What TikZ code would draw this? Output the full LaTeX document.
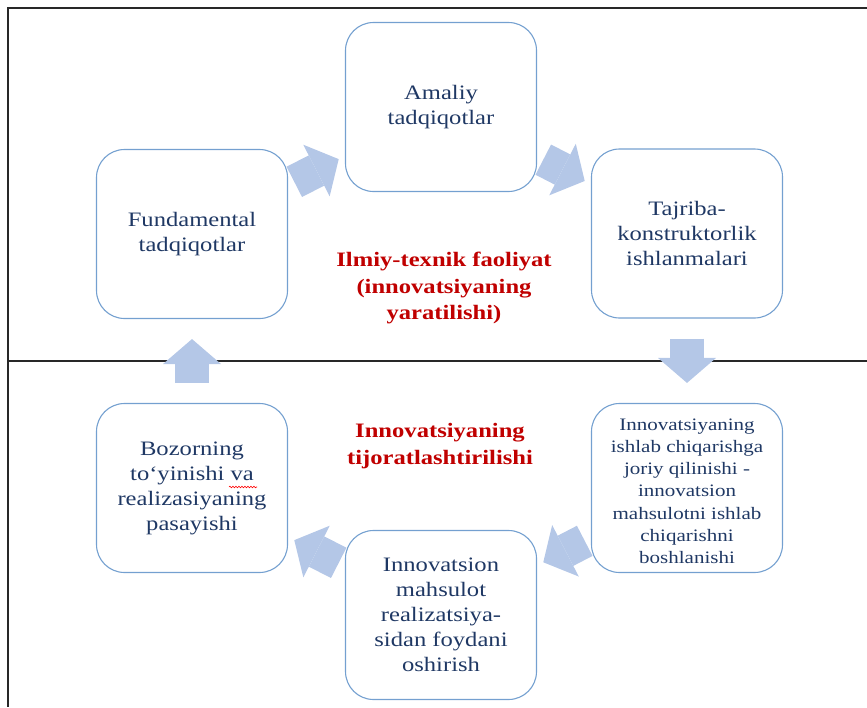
\documentclass[tikz,border=0pt]{standalone}
\usepackage{fontspec}
\setmainfont{Liberation Serif}[FakeStretch=1.2]
\usetikzlibrary{arrows.meta, positioning, decorations.pathmorphing}
\usepackage{xcolor}
\definecolor{boxLine}{RGB}{116,160,208}
\definecolor{boxText}{RGB}{31,56,100}
\definecolor{flowFill}{RGB}{180,199,231}
\definecolor{titleRed}{RGB}{192,0,0}
\definecolor{frameLine}{RGB}{40,40,40}

\begin{document}
\begin{tikzpicture}[x=1pt, y=-1pt,
    box/.style={rectangle, draw=boxLine, line width=1.1pt, rounded corners=28pt, minimum width=191pt, minimum height=169pt, inner sep=0pt, align=center, text=boxText, font=\fontsize{20.5}{25}\selectfont},
    flow/.style={draw=flowFill, line width=34pt, -{Triangle[length=25pt, width=58pt, line width=0pt]}},
    title/.style={align=center, text=titleRed, font=\fontsize{20.5}{26.5}\selectfont\bfseries},
    spell/.style={red, line width=0.6pt, decorate, decoration={snake, amplitude=0.8pt, segment length=3pt}}
]
\useasboundingbox (0,0) rectangle (867,707);
\draw[frameLine, line width=1.5pt] (867,8) -- (8,8) -- (8,707);
\draw[frameLine, line width=1.5pt] (8,361) -- (867,361);

\node[box] (amal) at (441,107) {Amaliy\\tadqiqotlar};
\node[box] (tajr) at (687,233.5) {Tajriba-\\konstruktorlik\\ishlanmalari};
\node[box] (fund) at (192,234) {Fundamental\\tadqiqotlar};
\node[box, font=\fontsize{17.5}{22.3}\selectfont] (innov) at (687,488) {\rule{0pt}{18pt}Innovatsiyaning\\ishlab chiqarishga\\joriy qilinishi -\\innovatsion\\mahsulotni ishlab\\chiqarishni\\boshlanishi};
\node[box] (bozor) at (192,488) {Bozorning\\to‘yinishi va\\realizasiyaning\\pasayishi};
\node[box] (mahsul) at (441,615) {Innovatsion\\mahsulot\\realizatsiya-\\sidan foydani\\oshirish};

\node[title] (sci) at (444,288) {Ilmiy-texnik faoliyat\\(innovatsiyaning\\yaratilishi)};
\node[title] (trade) at (440,446) {Innovatsiyaning\\tijoratlashtirilishi};

\draw[spell] ([xshift=37pt, yshift=1pt]bozor.center) -- ([xshift=65pt, yshift=1pt]bozor.center);

\draw[flow, shorten <=7pt, shorten >=7pt] (fund) -- (amal);
\draw[flow, shorten <=7pt, shorten >=7pt] (amal) -- (tajr);
\draw[flow, shorten <=20pt, shorten >=20pt] (tajr) -- (innov);
\draw[flow, shorten <=7pt, shorten >=7pt] (innov) -- (mahsul);
\draw[flow, shorten <=7pt, shorten >=7pt] (mahsul) -- (bozor);
\draw[flow, shorten <=20pt, shorten >=20pt] (bozor) -- (fund);
\end{tikzpicture}
\end{document}
